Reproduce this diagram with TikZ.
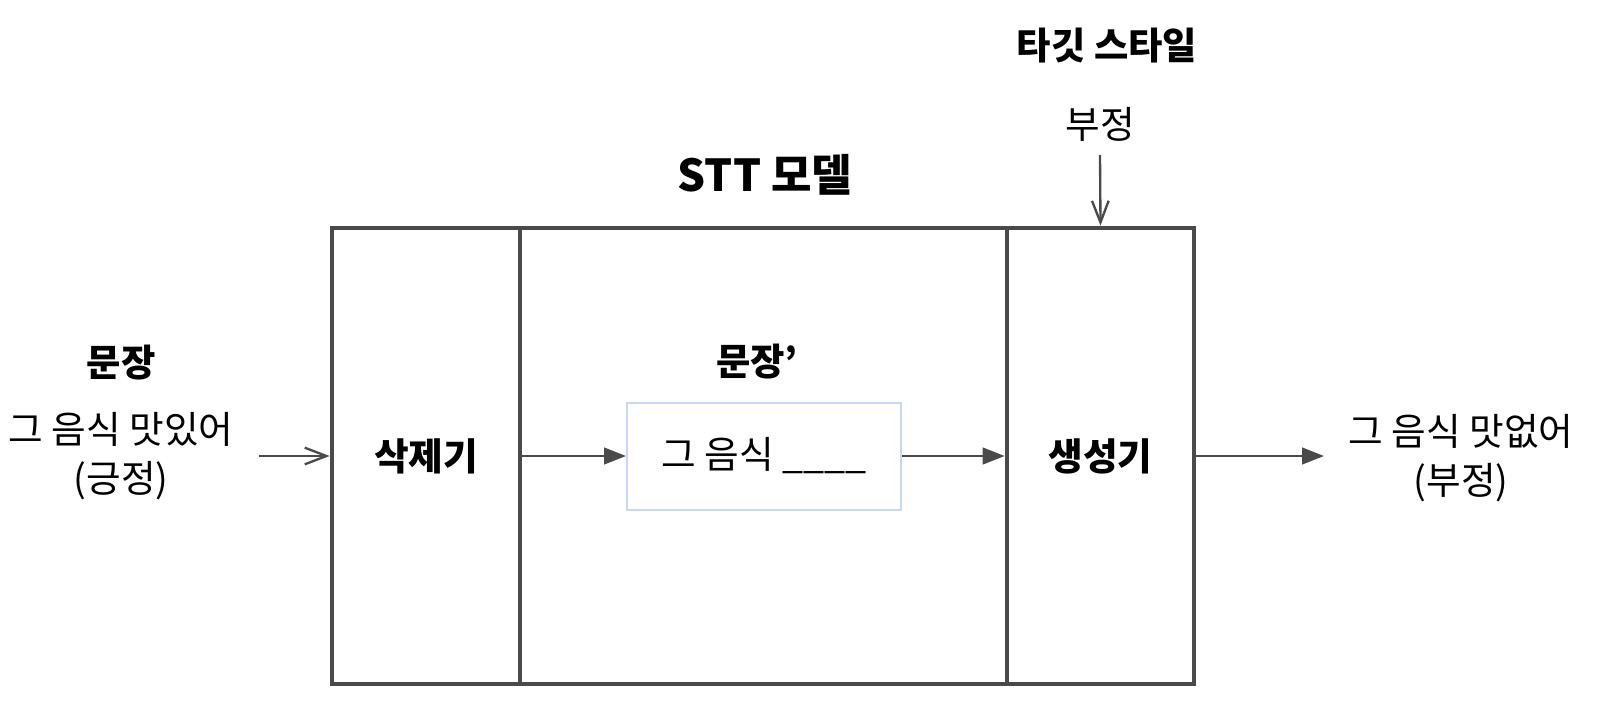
\documentclass[tikz,border=0pt]{standalone}
\usepackage{fontspec}
\setmainfont{Noto Sans CJK KR}
\usetikzlibrary{arrows.meta}
\definecolor{boxgray}{HTML}{4A4A4A}
\definecolor{paleblue}{HTML}{C5D6F6}

\begin{document}
\begin{tikzpicture}[
	x = 0.3pt, y = -0.3pt,
	every node/.style = {font=\fontsize{11.3}{14.7}\selectfont, inner sep=0pt},
	head/.style = {font=\fontsize{11.2}{14}\selectfont\bfseries},
	part/.style = {draw=boxgray, line width=1.4pt, minimum height=456*0.3pt, font=\fontsize{11.3}{14}\selectfont\bfseries},
	flow/.style = {draw=boxgray, line width=0.7pt, -{Triangle[length=6.6pt,width=5pt]}},
	feed/.style = {draw=boxgray, line width=0.7pt, -{Straight Barb[length=6.5pt,width=5pt]}},
	]

	\useasboundingbox (0,0) rectangle (1600,708);

	% model parts
	\node[part, minimum width=188*0.3pt] (del) at (426,456) {삭제기};
	\node[part, minimum width=487*0.3pt] (mid) at (763.5,456) {};
	\node[part, minimum width=187*0.3pt] (gen) at (1100.5,456) {생성기};
	\node[draw=paleblue, line width=0.6pt, minimum width=274*0.3pt, minimum height=107*0.3pt] (blank) at (764,456) {그 음식 \_\_\_\_};

	% texts
	\node[font=\fontsize{13.2}{16}\selectfont\bfseries] (title) at (765,175) {STT 모델};
	\node[head] (srctitle) at (121,363) {문장};
	\node[align=center] (src) at (121,456) {그 음식 맛있어\\(긍정)};
	\node[head] (midtitle) at (757,362) {문장’};
	\node[head] (styletitle) at (1107,46) {타깃 스타일};
	\node (style) at (1100,124) {부정};
	\node[align=center] (out) at (1461,458) {그 음식 맛없어\\(부정)};

	\coordinate (srcend) at (259,456);
	\coordinate (outend) at (1324,456);
	\coordinate (stylefoot) at (1100,155);

	% connectors
	\draw[feed] (srcend) -- (del.west);
	\draw[flow] (del.east) -- (blank.west);
	\draw[flow] (blank.east) -- (gen.west);
	\draw[flow] (gen.east) -- (outend);
	\draw[feed] (stylefoot) -- (gen.north);

\end{tikzpicture}
\end{document}
